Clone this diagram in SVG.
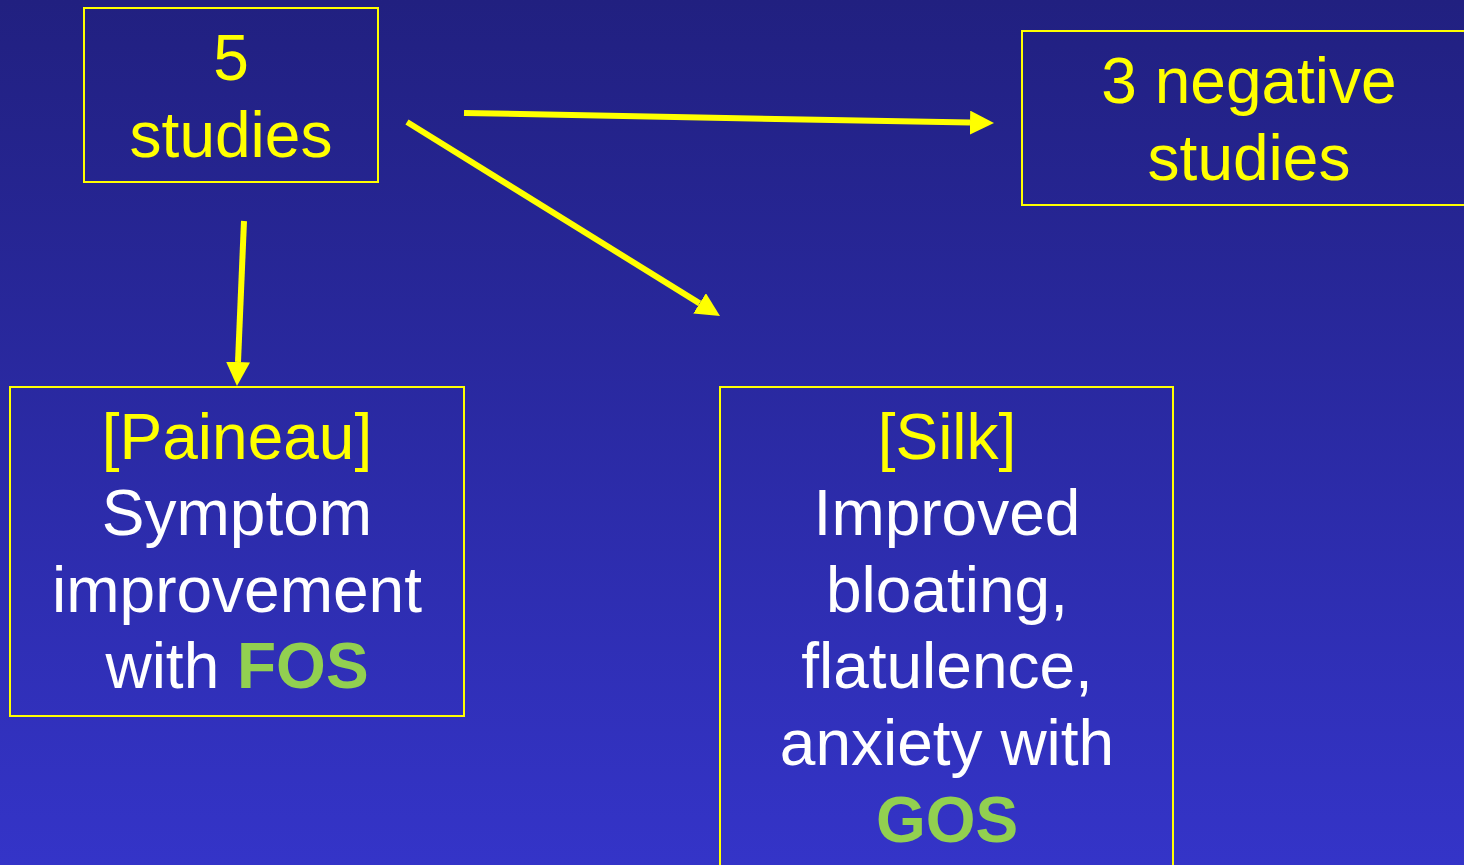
<svg xmlns="http://www.w3.org/2000/svg" width="1464" height="865" viewBox="0 0 1464 865">
<defs>
<linearGradient id="bg" x1="0" y1="0" x2="0" y2="1">
<stop offset="0" stop-color="#212080"/>
<stop offset="1" stop-color="#3434c8"/>
</linearGradient>
<marker id="ah" viewBox="0 0 10 10" refX="0" refY="5" markerWidth="4" markerHeight="4" orient="auto" markerUnits="strokeWidth">
<path d="M0,0 L10,5 L0,10 z" fill="#ffff00"/>
</marker>
<style>
.box{fill:none;stroke:#ffff00;stroke-width:2}
.t{font-family:"Liberation Sans",Arial,sans-serif;font-size:64px;text-anchor:middle}
.y{fill:#ffff00}
.w{fill:#ffffff}
.g{fill:#92d050;font-weight:bold}
.c{stroke:#ffff00;stroke-width:6;fill:none}
</style>
</defs>
<rect width="1464" height="865" fill="url(#bg)"/>
<g id="connectors">
<line class="c" x1="464" y1="113" x2="970" y2="122.6" marker-end="url(#ah)"/>
<line class="c" x1="407" y1="122" x2="699.6" y2="303.4" marker-end="url(#ah)"/>
<line class="c" x1="244" y1="221" x2="238" y2="362" marker-end="url(#ah)"/>
</g>
<g id="n1">
<rect class="box" x="84" y="8" width="294" height="174"/>
<text class="t y" x="231" y="80">5</text>
<text class="t y" x="231" y="157">studies</text>
</g>
<g id="n2">
<rect class="box" x="1022" y="31" width="460" height="174"/>
<text class="t y" x="1249" y="103">3 negative</text>
<text class="t y" x="1249" y="180">studies</text>
</g>
<g id="n3">
<rect class="box" x="10" y="387" width="454" height="329"/>
<text class="t y" x="237" y="459">[Paineau]</text>
<text class="t w" x="237" y="535">Symptom</text>
<text class="t w" x="237" y="612">improvement</text>
<text class="t w" x="237" y="688">with <tspan class="g">FOS</tspan></text>
</g>
<g id="n4">
<rect class="box" x="720" y="387" width="453" height="500"/>
<text class="t y" x="947" y="459">[Silk]</text>
<text class="t w" x="947" y="535">Improved</text>
<text class="t w" x="947" y="612">bloating,</text>
<text class="t w" x="947" y="688">flatulence,</text>
<text class="t w" x="947" y="765">anxiety with</text>
<text class="t g" x="947" y="842">GOS</text>
</g>
</svg>
